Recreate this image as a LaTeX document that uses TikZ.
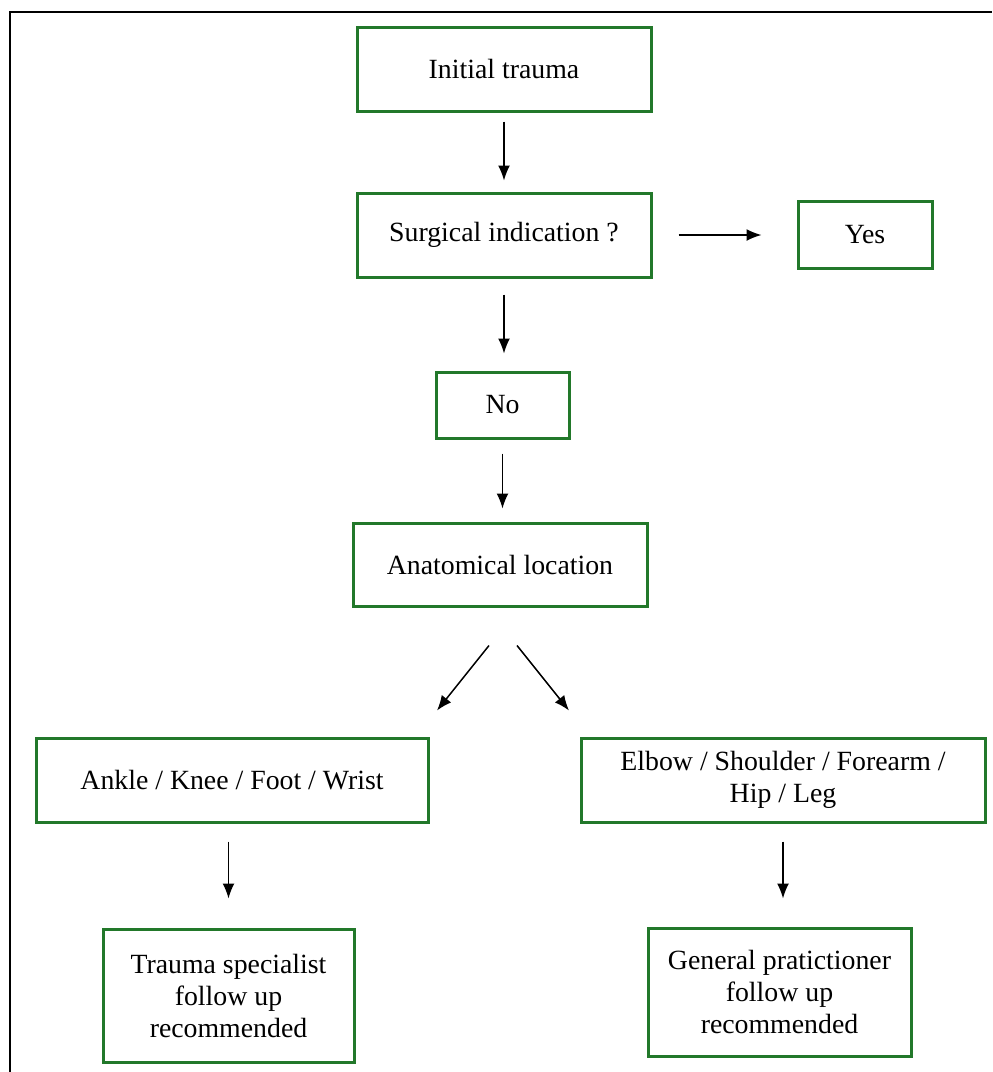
\documentclass[tikz,border=0pt]{standalone}
\usepackage{fontspec}
\setmainfont{Liberation Serif}
\usepackage{tikz}
\usetikzlibrary{arrows.meta}
\definecolor{boxgreen}{RGB}{34,120,42}

\begin{document}
\begin{tikzpicture}[x=0.5pt, y=-0.5pt,
  box/.style={draw=boxgreen, line width=1.5pt, align=center, inner sep=0pt,
    font=\fontsize{13.9pt}{16pt}\selectfont},
  arr/.style={-{Latex[length=7.5pt,width=6pt]}, line width=0.75pt}]
\useasboundingbox (0,0) rectangle (992,1072);
\draw [black, line width=1pt] (10,1072) -- (10,11.5) -- (992,11.5);

\node [box, minimum width=147pt, minimum height=42pt] (trauma) at (504,69) {Initial trauma};
\node [box, minimum width=147pt, minimum height=42pt] (surgical) at (504,235) {Surgical indication ?};
\node [box, minimum width=67pt, minimum height=33.5pt] (yes) at (865,234.5) {Yes};
\node [box, minimum width=66.5pt, minimum height=33pt] (no) at (502.5,405) {No};
\node [box, minimum width=147pt, minimum height=41.5pt] (location) at (500,564.5) {Anatomical location};

\node [box, minimum width=196pt, minimum height=42pt] (ankle) at (232,780) {Ankle / Knee / Foot / Wrist};
\node [box, minimum width=202pt, minimum height=42pt] (elbow) at (783,780) {Elbow / Shoulder / Forearm /\\ Hip / Leg};

\node [box, minimum width=125.5pt, minimum height=66.5pt] (specialist) at (228.5,995.5) {Trauma specialist\\ follow up\\ recommended};
\node [box, minimum width=131.5pt, minimum height=64pt] (practitioner) at (779.5,992) {General pratictioner\\ follow up\\ recommended};

\draw [arr, shorten <=4.5pt, shorten >=5.5pt] (trauma.south) -- (surgical.north);
\draw [arr, shorten <=13pt, shorten >=17.5pt] (surgical.east) -- (surgical.east -| yes.west);
\draw [arr, shorten <=8pt, shorten >=8.5pt] (surgical.south) -- (surgical.south |- no.north);
\draw [arr, shorten <=7pt, shorten >=6.5pt] (no.south) -- (no.south |- location.north);

\draw [arr] ([shift={(-11,38)}]location.south) -- ([shift={(205,-26)}]ankle.north);
\draw [arr] ([shift={(17,38)}]location.south) -- ([shift={(-214,-26)}]elbow.north);

\draw [arr, shorten <=9pt, shorten >=14.5pt] (specialist.north |- ankle.south) -- (specialist.north);
\draw [arr, shorten <=9pt, shorten >=14pt] (elbow.south) -- (elbow.south |- practitioner.north);
\end{tikzpicture}
\end{document}
